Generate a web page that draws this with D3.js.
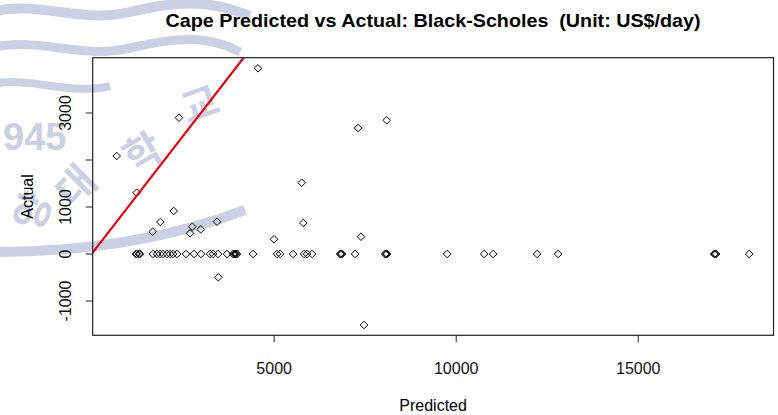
<!DOCTYPE html>
<html>
<head>
<meta charset="utf-8">
<script src="https://cdn.jsdelivr.net/npm/d3@7"></script>
<style>
  body { margin: 0; background: #fff; }
  svg { display: block; font-family: "Liberation Sans", Arial, sans-serif; }
</style>
</head>
<body>
<svg width="778" height="415"></svg>
<script>
// points that are not on the zero line
var predictedHit = [4570, 2400, 689, 1238, 2255, 1888, 1678, 2703, 2766, 2996, 3444, 5770, 5814, 5010, 7399, 3480, 7481, 8105, 7317];
var actualHit    = [3951, 2900, 2085, 1304, 915, 681, 475, 440, 581, 525, 687, 1517, 660, 313, 368, -496, -1511, 2845, 2681];
// predicted values where actual was 0
var predictedZero = [1219, 1240, 1300, 1329, 1686, 1796, 1879, 1961, 2071, 2153, 2236, 2346, 2593, 2813, 3005, 3252, 3335, 3472, 3719,
                     3884, 3920, 3939, 3960, 3994, 4434, 5093, 5176, 5533, 5835, 5917, 6055, 6824, 6850, 6879, 7236, 8061, 8090, 8116,
                     9764, 10780, 11027, 12236, 12813, 17097, 17120, 17152, 18059];
var xTicks = [5000, 10000, 15000];
var yTicks = [-1000, 0, 1000, 2000, 3000];
var yTickLabels = ["-1000", "0", "1000", "", "3000"];

var points = predictedHit.map(function(p, i){ return {x: p, y: actualHit[i]}; })
  .concat(predictedZero.map(function(p){ return {x: p, y: 0}; }));

var svg = d3.select("svg");

// faint watermark in the background
var wm = svg.append("g").attr("fill", "#ccd0e4").attr("stroke", "#ccd0e4");
wm.append("path").attr("fill", "none").attr("stroke-width", 10)
  .attr("d", "M-10,12 C40,0 80,24 130,12 S210,0 250,16");
wm.append("path").attr("fill", "none").attr("stroke-width", 9)
  .attr("d", "M-10,48 C40,36 80,60 130,48 S210,36 240,52");
wm.append("path").attr("fill", "none").attr("stroke-width", 8)
  .attr("d", "M-10,84 C30,76 70,96 110,86");
wm.append("path").attr("fill", "none").attr("stroke-width", 10)
  .attr("d", "M-5,252 C60,252 150,246 245,210");
wm.append("text").attr("stroke", "none").attr("x", 3).attr("y", 150)
  .style("font-size", "38px").style("font-weight", "bold").text("945");
[["양", 46, 216, -70], ["대", 86, 196, -45], ["학", 150, 165, -30], ["교", 205, 118, -20]].forEach(function(c){
  wm.append("text").attr("stroke", "none")
    .attr("transform", "translate(" + c[1] + "," + c[2] + ") rotate(" + c[3] + ")")
    .attr("text-anchor", "middle")
    .style("font-family", "'Noto Sans CJK KR'").style("font-size", "40px").style("font-weight", "bold")
    .text(c[0]);
});

var pLeft = 92.7, pRight = 773.5, pTop = 57.7, pBottom = 335.3;

var x = d3.scaleLinear().domain([30, 18728]).range([pLeft, pRight]);
var y = d3.scaleLinear().domain([-1730, 4177]).range([pBottom, pTop]);

svg.append("clipPath").attr("id", "plotclip")
  .append("rect").attr("x", pLeft).attr("y", pTop).attr("width", pRight - pLeft).attr("height", pBottom - pTop);

// points
var diamond = function(d){
  var cx = x(d.x), cy = y(d.y), r = 3.8;
  return "M" + cx + "," + (cy - r) + "L" + (cx + r) + "," + cy + "L" + cx + "," + (cy + r) + "L" + (cx - r) + "," + cy + "Z";
};
svg.append("g").selectAll("path")
  .data(points)
  .enter().append("path")
  .attr("d", diamond)
  .attr("fill", "none")
  .attr("stroke", "#000")
  .attr("stroke-width", 1);

// y = x line
svg.append("line")
  .attr("clip-path", "url(#plotclip)")
  .attr("x1", x(-2000)).attr("y1", y(-2000))
  .attr("x2", x(5000)).attr("y2", y(5000))
  .attr("stroke", "#e8000b")
  .attr("stroke-width", 2.2);

// box
svg.append("rect")
  .attr("x", pLeft).attr("y", pTop)
  .attr("width", pRight - pLeft).attr("height", pBottom - pTop)
  .attr("fill", "none").attr("stroke", "#222").attr("stroke-width", 1.2);

// axes
var xAxis = svg.append("g").attr("transform", "translate(0," + pBottom + ")")
  .call(d3.axisBottom(x).tickValues(xTicks).tickSize(7).tickPadding(20).tickFormat(d3.format("d")));
xAxis.select(".domain").remove();

var yAxis = svg.append("g").attr("transform", "translate(" + pLeft + ",0)")
  .call(d3.axisLeft(y).tickValues(yTicks).tickSize(7).tickFormat(function(d, i){ return yTickLabels[i]; }));
yAxis.select(".domain").remove();
yAxis.selectAll(".tick").attr("transform", null);
yAxis.selectAll(".tick line").attr("y1", function(d){ return y(d); }).attr("y2", function(d){ return y(d); });
yAxis.selectAll(".tick text")
  .attr("x", 0).attr("y", 0).attr("dy", "0.35em")
  .attr("text-anchor", "middle")
  .attr("transform", function(d){ return "translate(-27," + y(d) + ") rotate(-90)"; });

svg.selectAll(".tick text").style("font-size", "16px").style("font-family", "'Liberation Sans', Arial, sans-serif").attr("fill", "#111");
svg.selectAll(".tick line").attr("stroke", "#222");

// titles
svg.append("text")
  .attr("x", (pLeft + pRight) / 2).attr("y", 27)
  .attr("text-anchor", "middle")
  .attr("textLength", 535).attr("lengthAdjust", "spacingAndGlyphs")
  .style("white-space", "pre")
  .style("font-size", "19px").style("font-weight", "bold")
  .text("Cape Predicted vs Actual: Black-Scholes  (Unit: US$/day)");

svg.append("text")
  .attr("x", (pLeft + pRight) / 2).attr("y", 411)
  .attr("text-anchor", "middle")
  .style("font-size", "16px")
  .text("Predicted");

svg.append("text")
  .attr("transform", "translate(33," + ((pTop + pBottom) / 2) + ") rotate(-90)")
  .attr("text-anchor", "middle")
  .style("font-size", "16px")
  .text("Actual");
</script>
</body>
</html>
